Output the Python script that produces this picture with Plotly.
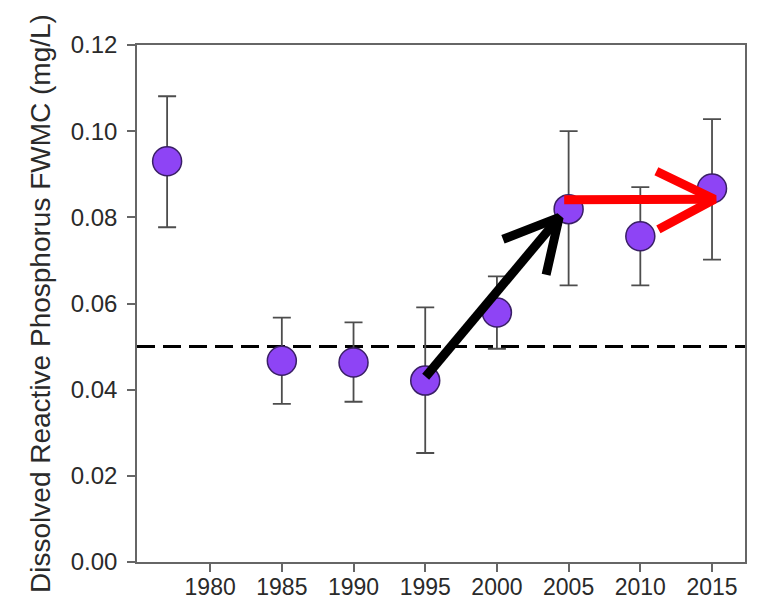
import plotly.graph_objects as go

# Data
years = [1977, 1985, 1990, 1995, 2000, 2005, 2010, 2015]
fwmc = [0.0930, 0.0467, 0.0463, 0.0421, 0.0579, 0.0819, 0.0756, 0.0867]
err_upper = [0.1081, 0.0567, 0.0556, 0.0591, 0.0663, 0.1000, 0.0870, 0.1028]
err_lower = [0.0777, 0.0367, 0.0372, 0.0253, 0.0495, 0.0642, 0.0642, 0.0702]
threshold = 0.05

x_ticks = [1980, 1985, 1990, 1995, 2000, 2005, 2010, 2015]
y_ticks = [0.00, 0.02, 0.04, 0.06, 0.08, 0.10, 0.12]

# Arrow annotation paths (shaft + chevron head)
black_shaft_x = [1995.03, 2004.34]
black_shaft_y = [0.0430, 0.0800]
black_head_x = [2000.42, 2004.34, 2003.43]
black_head_y = [0.0749, 0.0800, 0.0667]

red_shaft_x = [2004.69, 2015.17]
red_shaft_y = [0.0841, 0.0842]
red_head_x = [2011.12, 2015.17, 2011.26]
red_head_y = [0.0907, 0.0842, 0.0772]

plus = [u - v for u, v in zip(err_upper, fwmc)]
minus = [v - l for v, l in zip(fwmc, err_lower)]

FONT = "Liberation Sans, Arial, sans-serif"

fig = go.Figure()

fig.add_hline(y=threshold, line=dict(color="black", width=3, dash="18px,8px"), layer="below")

fig.add_trace(go.Scatter(
    x=years, y=fwmc, mode="markers",
    marker=dict(size=29, color="#8E44F5", line=dict(color="#3A1F66", width=1.5)),
    error_y=dict(type="data", symmetric=False, array=plus, arrayminus=minus,
                 color="#4d4d4d", thickness=1.8, width=9),
    showlegend=False,
))

for sx, sy, hx, hy, col in [
    (black_shaft_x, black_shaft_y, black_head_x, black_head_y, "black"),
    (red_shaft_x, red_shaft_y, red_head_x, red_head_y, "#FF0000"),
]:
    fig.add_trace(go.Scatter(x=sx, y=sy, mode="lines",
                             line=dict(color=col, width=9), showlegend=False, hoverinfo="skip"))
    fig.add_trace(go.Scatter(x=hx, y=hy, mode="lines",
                             line=dict(color=col, width=9), showlegend=False, hoverinfo="skip"))

axis_common = dict(
    showline=True, linecolor="#666666", linewidth=1.5, mirror=True,
    ticks="outside", ticklen=8, tickcolor="#666666", tickwidth=1.5,
    showgrid=False, zeroline=False,
)

fig.update_xaxes(range=[1974.9, 2017.3], tickvals=x_ticks, ticklabelstandoff=-4,
                 tickfont=dict(family=FONT, size=23, color="#2a2a2a"), **axis_common)
fig.update_yaxes(range=[0, 0.12], tickvals=y_ticks, tickformat=".2f", ticklabelstandoff=5,
                 tickfont=dict(family=FONT, size=24, color="#2a2a2a"),
                 title=dict(text="Dissolved Reactive Phosphorus FWMC (mg/L)",
                            font=dict(family=FONT, size=28, color="#2a2a2a"),
                            standoff=12),
                 **axis_common)

fig.update_layout(
    width=741, height=594,
    margin=dict(l=129, r=4, t=37, b=40, autoexpand=False),
    paper_bgcolor="white", plot_bgcolor="white",
)

fig.write_html("out.html")
